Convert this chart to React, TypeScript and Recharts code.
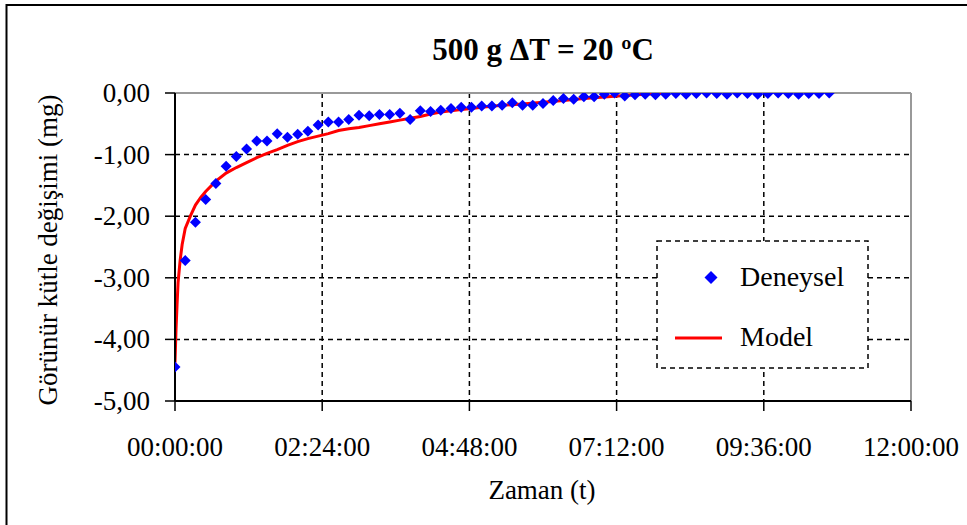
import React from 'react';
import {
  ComposedChart,
  Scatter,
  Line,
  XAxis,
  YAxis,
  CartesianGrid,
  ReferenceLine,
  Legend,
} from 'recharts';

// ---------- data ----------
const chartTitle = '500 g \u0394T = 20 \u00baC';
const xAxisTitle = 'Zaman (t)';
const yAxisTitle = 'Görünür kütle değişimi (mg)';
const seriesNames = ['Deneysel', 'Model'];

// minutes
const xTicks = [0, 144, 288, 432, 576, 720];
const yTicks = [-5, -4, -3, -2, -1, 0];

// Deneysel (experimental) – time in minutes
const deneyselTimes = [
  0, 10, 20, 30, 40, 50, 60, 70, 80, 90,
  100, 110, 120, 130, 140, 150, 160, 170, 180, 190,
  200, 210, 220, 230, 240, 250, 260, 270, 280, 290,
  300, 310, 320, 330, 340, 350, 360, 370, 380, 390,
  400, 410, 420, 430, 440, 450, 460, 470, 480, 490,
  500, 510, 520, 530, 540, 550, 560, 570, 580, 590,
  600, 610, 620, 630, 640,
];
const deneyselValues = [
  -4.45, -2.72, -2.1, -1.73, -1.47, -1.19, -1.03, -0.91, -0.78, -0.78,
  -0.66, -0.72, -0.67, -0.62, -0.52, -0.47, -0.47, -0.43, -0.36, -0.37,
  -0.35, -0.35, -0.33, -0.43, -0.29, -0.3, -0.28, -0.25, -0.23, -0.23,
  -0.21, -0.21, -0.2, -0.16, -0.2, -0.2, -0.17, -0.12, -0.09, -0.1,
  -0.06, -0.06, -0.02, 0.0, -0.05, -0.03, -0.02, -0.03, -0.02, -0.01,
  -0.02, -0.01, 0.0, -0.01, -0.02, 0.0, -0.01, -0.02, -0.01, 0.0,
  -0.01, -0.02, -0.01, -0.01, 0.0,
];

// Model – time in minutes
const modelTimes = [
  0, 1, 2, 3, 5, 7, 10, 15, 20, 25, 30, 40, 50, 60, 70, 80, 90, 100,
  110, 120, 130, 140, 150, 160, 170, 180, 190, 200, 210, 220, 230, 240,
  250, 260, 270, 280, 290, 300, 320, 340, 360, 380, 400, 420, 440, 460, 480,
];
const modelValues = [
  -4.38, -3.84, -3.44, -3.08, -2.72, -2.46, -2.2, -2.0, -1.82, -1.7, -1.6,
  -1.43, -1.3, -1.21, -1.13, -1.05, -0.98, -0.92, -0.85, -0.79, -0.74,
  -0.7, -0.66, -0.61, -0.58, -0.56, -0.53, -0.5, -0.47, -0.44, -0.41,
  -0.38, -0.34, -0.31, -0.29, -0.27, -0.25, -0.23, -0.2, -0.18, -0.15,
  -0.12, -0.09, -0.065, -0.04, -0.02, 0.0,
];

const deneyselData = deneyselTimes.map((t, i) => ({ t, v: deneyselValues[i] }));
const modelData = modelTimes.map((t, i) => ({ t, v: modelValues[i] }));

// ---------- styling helpers ----------
const FONT = '"Liberation Serif", "Times New Roman", serif';
const BLUE = '#0000FF';
const RED = '#FF0000';

const pad2 = (n: number) => String(n).padStart(2, '0');
const fmtTime = (m: number) => {
  const h = Math.floor(m / 60);
  const mm = Math.round(m - h * 60);
  return `${pad2(h)}:${pad2(mm)}:00`;
};
const fmtY = (v: number) => Math.abs(v).toFixed(2).replace('.', ',').replace(/^/, v < 0 ? '-' : '');

const diamondPath = (cx: number, cy: number, r: number) =>
  `M${cx},${cy - r}L${cx + r},${cy}L${cx},${cy + r}L${cx - r},${cy}Z`;

const Diamond = (props: any) => {
  const { cx, cy } = props;
  if (cx == null || cy == null) return null;
  return <path d={diamondPath(cx, cy, 5.5)} fill={BLUE} />;
};

const XTick = (props: any) => {
  const { x, y, payload } = props;
  return (
    <text x={x} y={y + 45} textAnchor="middle" fontFamily={FONT} fontSize={27} fill="#000">
      {fmtTime(payload.value)}
    </text>
  );
};

const YTick = (props: any) => {
  const { x, y, payload } = props;
  return (
    <text x={x} y={y + 9} textAnchor="end" fontFamily={FONT} fontSize={27} fill="#000">
      {fmtY(payload.value)}
    </text>
  );
};

const XTitle = () => (
  <text x={542} y={499} textAnchor="middle" fontFamily={FONT} fontSize={27} fill="#000">
    {xAxisTitle}
  </text>
);

const YTitle = () => (
  <text
    transform="translate(57,250) rotate(-90)"
    textAnchor="middle"
    fontFamily={FONT}
    fontSize={27}
    fill="#000"
  >
    {yAxisTitle}
  </text>
);

const LegendBox = () => (
  <svg width={213} height={129} style={{ display: 'block' }}>
    <rect
      x={1}
      y={1}
      width={211}
      height={127}
      fill="#fff"
      stroke="#000"
      strokeWidth={1.5}
      strokeDasharray="5 4"
    />
    <path d={diamondPath(55, 37.5, 6.5)} fill={BLUE} />
    <text x={84} y={46} fontFamily={FONT} fontSize={28} fill="#000">
      {seriesNames[0]}
    </text>
    <line x1={19} x2={66} y1={98} y2={98} stroke={RED} strokeWidth={3} />
    <text x={84} y={106} fontFamily={FONT} fontSize={28} fill="#000">
      {seriesNames[1]}
    </text>
  </svg>
);

export default function App() {
  return (
    <div
      style={{
        position: 'absolute',
        left: 0,
        top: 0,
        width: 967,
        height: 525,
        overflow: 'hidden',
        background: '#fff',
      }}
    >
      <svg style={{ position: 'absolute', left: 0, top: 0 }} width={967} height={525}>
        <path d="M6.5,525 V5 H967" stroke="#000" strokeWidth={2} fill="none" />
        <text
          x={543}
          y={60}
          textAnchor="middle"
          fontFamily={FONT}
          fontSize={31}
          fontWeight="bold"
          fill="#000"
        >
          {chartTitle}
        </text>
      </svg>
      <div style={{ position: 'absolute', left: 0, top: 0 }}>
        <ComposedChart
          width={967}
          height={525}
          margin={{ top: 93, right: 56, bottom: 64, left: 75 }}
        >
          <CartesianGrid stroke="#000" strokeDasharray="5 4" strokeWidth={1.5} />
          <ReferenceLine y={0} stroke="#999" strokeWidth={2} />
          <ReferenceLine x={720} stroke="#999" strokeWidth={2} />
          <XAxis
            dataKey="t"
            type="number"
            domain={[0, 720]}
            ticks={xTicks}
            interval={0}
            height={60}
            tickSize={10}
            tickMargin={0}
            allowDataOverflow
            axisLine={{ stroke: '#000', strokeWidth: 2 }}
            tickLine={{ stroke: '#000', strokeWidth: 1.5 }}
            tick={<XTick />}
            label={<XTitle />}
          />
          <YAxis
            type="number"
            domain={[-5, 0]}
            ticks={yTicks}
            interval={0}
            width={100}
            tickSize={10}
            tickMargin={15}
            allowDataOverflow
            axisLine={{ stroke: '#000', strokeWidth: 2 }}
            tickLine={{ stroke: '#000', strokeWidth: 1.5 }}
            tick={<YTick />}
            label={<YTitle />}
          />
          <Scatter
            name={seriesNames[0]}
            data={deneyselData}
            dataKey="v"
            shape={<Diamond />}
            isAnimationActive={false}
          />
          <Line
            name={seriesNames[1]}
            data={modelData}
            dataKey="v"
            type="linear"
            stroke={RED}
            strokeWidth={3}
            dot={false}
            activeDot={false}
            isAnimationActive={false}
          />
          <Legend
            layout="vertical"
            align="center"
            verticalAlign="middle"
            content={<LegendBox />}
            wrapperStyle={{ left: 656, top: 240, width: 213, height: 129 }}
          />
        </ComposedChart>
      </div>
    </div>
  );
}
